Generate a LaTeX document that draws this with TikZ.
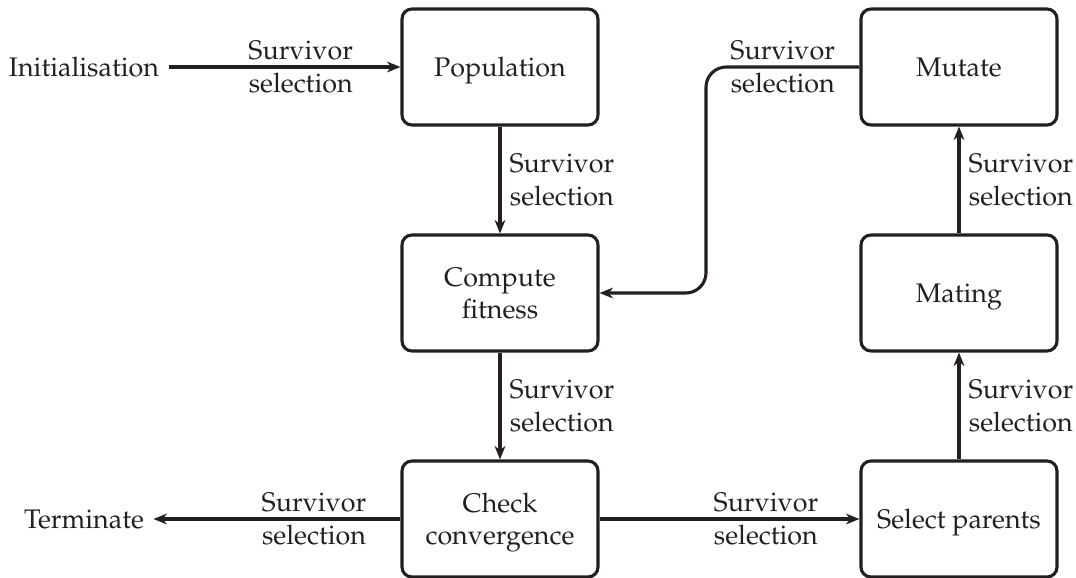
\documentclass[tikz,border=0pt]{standalone}
\usepackage[T1]{fontenc}
\usepackage{mathpazo}
\usetikzlibrary{arrows.meta}
\definecolor{ink}{HTML}{231F20}
\begin{document}
\begin{tikzpicture}[x=0.3717pt,y=-0.3717pt, color=ink,
  stagebox/.style={draw, line width=1.15pt, rounded corners=3.7pt,
    minimum width=196*0.3717pt, minimum height=116*0.3717pt,
    align=center, inner sep=2pt, text depth=0pt},
  endtext/.style={inner sep=3.33pt},
  arr/.style={line width=1.15pt, -{Stealth[length=5pt,width=4pt,inset=1.6pt]}},
  lbl/.style={align=center, inner sep=3pt},
  lblright/.style={lbl, anchor=west}]
\useasboundingbox (0,0) rectangle (1076,578);

% process stages
\node[stagebox] (pop)  at (500,67)  {Population};
\node[stagebox] (fit)  at (500,293) {Compute\\fitness};
\node[stagebox] (conv) at (500,519) {Check\\convergence};
\node[stagebox] (mut)  at (959,67)  {Mutate};
\node[stagebox] (mate) at (959,293) {Mating};
\node[stagebox] (sel)  at (959,519) {Select parents};

% start and end
\node[endtext] (init) at (84,67)  {Initialisation};
\node[endtext] (term) at (84,519) {Terminate};

% bend of the feedback loop
\coordinate (bend) at (706,67);

\draw[arr] (init) -- node[lbl, pos=0.57] {Survivor\\selection} (pop);
\draw[arr] (pop) -- node[lblright] {Survivor\\selection} (fit);
\draw[arr] (fit) -- node[lblright] {Survivor\\selection} (conv);
\draw[arr] (conv) -- node[lbl, pos=0.35] {Survivor\\selection} (term);
\draw[arr] (conv) -- node[lbl, pos=0.64] {Survivor\\selection} (sel);
\draw[arr] (sel) -- node[lblright] {Survivor\\selection} (mate);
\draw[arr] (mate) -- node[lblright] {Survivor\\selection} (mut);
\draw[arr, rounded corners=7.5pt] (mut.west) -- node[lbl] {Survivor\\selection} (bend) |- (fit.east);
\end{tikzpicture}
\end{document}
